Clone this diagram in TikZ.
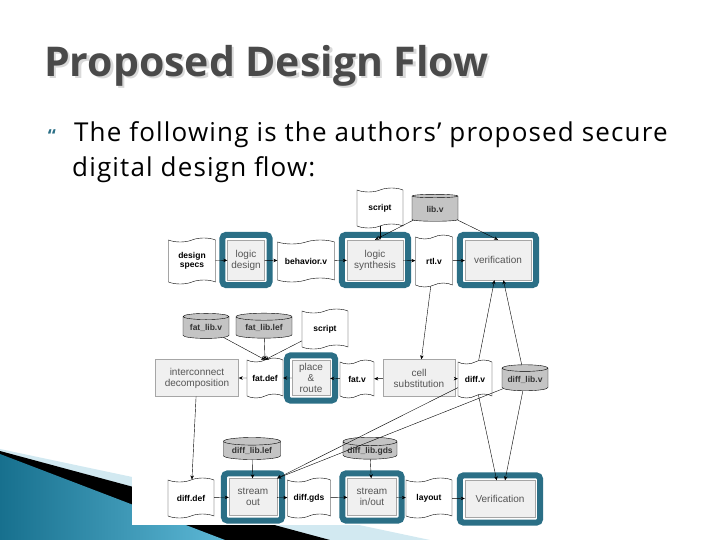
\documentclass[tikz,border=0pt]{standalone}
\usepackage{fontspec}
\setmainfont{Liberation Sans}
\newfontfamily\slidefont{Open Sans}
\newfontfamily\introfont[LetterSpace=4.5]{Open Sans}
\usepackage{tikz}
\usetikzlibrary{shapes.symbols,shapes.geometric,fit,positioning,arrows.meta,calc}

\definecolor{frameteal}{HTML}{2B6F86}
\definecolor{procfill}{HTML}{F0F0F0}
\definecolor{libgray}{HTML}{C4C4C4}
\definecolor{titlegray}{HTML}{4A4A4A}
\definecolor{proctext}{HTML}{555555}
\definecolor{swooshdark}{HTML}{17708E}
\definecolor{swooshlight}{HTML}{5DB8D6}
\definecolor{swooshband}{HTML}{D2E9F1}

\begin{document}
\begin{tikzpicture}[x=1pt,y=-1pt,thin,>={Stealth[length=4pt,width=3.5pt]},
    doc node/.style={tape,draw,fill=white,font=\bfseries\fontsize{8.5}{9.5}\selectfont,
      align=center,inner sep=1pt,tape bend height=4pt},
    lib node/.style={cylinder,shape border rotate=90,aspect=0.18,draw,fill=libgray,
      font=\bfseries\fontsize{8.5}{9.5}\selectfont,text=black!80,inner sep=1pt},
    task node/.style={rectangle,draw=gray!70,fill=procfill,text=proctext,
      font=\fontsize{10}{11}\selectfont,align=center,inner sep=1pt,minimum height=37pt},
    frame node/.style={rectangle,draw=frameteal,line width=6pt,rounded corners=4pt,
      inner sep=5pt,fill=none},
    flow/.style={->,black}]

  \useasboundingbox (0,0) rectangle (720,540);

  % slide decoration
  \fill[swooshband] (0,449) -- (430,540) -- (0,540) -- cycle;
  \fill[black] (0,451) -- (330,540) -- (0,540) -- cycle;
  \shade[left color=swooshdark,right color=swooshlight] (0,454) -- (225,540) -- (0,540) -- cycle;
  \fill[white] (132,185) rectangle (550,525);

  % title and bullet
  \node[anchor=base west,inner sep=0,text=gray!30,
        font=\slidefont\bfseries\fontsize{41}{46}\selectfont] at (46.5,78.5) {Proposed Design Flow};
  \node[anchor=base west,inner sep=0,text=titlegray,
        font=\slidefont\bfseries\fontsize{41}{46}\selectfont] (title) at (44,77) {Proposed Design Flow};
  \node[text=frameteal,inner sep=0,font=\slidefont\bfseries\fontsize{18}{18}\selectfont] (bullet) at (52,136) {“};
  \node[anchor=base west,inner sep=0,font=\introfont\fontsize{26}{33}\selectfont] (intro) at (74,142)
        {The following is the authors’ proposed secure};
  \node[anchor=base west,inner sep=0,font=\introfont\fontsize{26}{33}\selectfont] (introtwo) at (72,177)
        {digital design flow:};

  % first row
  \node[doc node,minimum width=47pt,minimum height=46pt] (specs) at (192,261) {design\\specs};
  \node[task node,minimum width=37pt,minimum height=40pt] (logicdesign) at (246,260) {logic\\design};
  \node[doc node,minimum width=57pt,minimum height=42pt] (behavior) at (306,261) {behavior.v};
  \node[task node,minimum width=56pt,minimum height=40pt] (synthesis) at (375,260) {logic\\synthesis};
  \node[doc node,minimum width=37pt,minimum height=52pt] (rtl) at (434,261) {rtl.v};
  \node[task node,minimum width=66pt,minimum height=40pt] (verif) at (498,260) {verification};
  \node[doc node,minimum width=46pt,minimum height=40pt] (script1) at (380,208) {script};
  \node[lib node,minimum width=46pt,minimum height=27pt] (libv) at (435,209) {lib.v};

  % second row
  \node[lib node,minimum width=46pt,minimum height=25pt] (fatlibv) at (206,328) {fat\_lib.v};
  \node[lib node,minimum width=56pt,minimum height=25pt] (fatliblef) at (264,328) {fat\_lib.lef};
  \node[doc node,minimum width=46pt,minimum height=40pt] (script2) at (325,329) {script};
  \node[task node,minimum width=83pt] (interconnect) at (197,378) {interconnect\\decomposition};
  \node[doc node,minimum width=36pt,minimum height=40pt] (fatdef) at (265,378) {fat.def};
  \node[task node,minimum width=38pt,minimum height=35pt] (place) at (311,378) {place\\\&\\route};
  \node[doc node,minimum width=34pt,minimum height=38pt] (fatv) at (357,379) {fat.v};
  \node[task node,minimum width=72pt] (cellsub) at (419,378) {cell\\substitution};
  \node[doc node,minimum width=34pt,minimum height=38pt] (diffv) at (475,379) {diff.v};
  \node[lib node,minimum width=46pt,minimum height=26pt] (difflibv) at (525,380) {diff\_lib.v};

  % third row
  \node[lib node,minimum width=57pt,minimum height=22pt] (difflef) at (252,451) {diff\_lib.lef};
  \node[lib node,minimum width=54pt,minimum height=22pt] (diffgdslib) at (370,451) {diff\_lib.gds};
  \node[doc node,minimum width=46pt,minimum height=40pt] (diffdef) at (191,498) {diff.def};
  \node[task node,minimum width=48pt] (streamout) at (253,497) {stream\\out};
  \node[doc node,minimum width=43pt,minimum height=40pt] (diffgds) at (309,498) {diff.gds};
  \node[task node,minimum width=49pt] (streaminout) at (372,497) {stream\\in/out};
  \node[doc node,minimum width=46pt,minimum height=40pt] (layout) at (429,498) {layout};
  \node[task node,minimum width=70pt] (verif2) at (500,499) {Verification};

  % teal frames round the tools
  \foreach \tool in {logicdesign,synthesis,verif,place,streamout,streaminout,verif2}
    \node[frame node,fit=(\tool)] (\tool frame) {};

  \path[flow]
    (specs) edge (logicdesign)
    (logicdesign) edge (behavior)
    (behavior) edge (synthesis)
    (synthesis) edge (rtl)
    (rtl) edge (verif)
    (script1) edge (synthesis.north -| script1)
    (libv) edge (synthesis.north)
    (libv) edge (verif.north)
    (rtl) edge (cellsub)
    (fatlibv) edge (fatdef.north)
    (fatliblef) edge (fatdef.north)
    (script2) edge (fatdef.north)
    (fatdef) edge (interconnect)
    (place) edge (fatdef)
    (fatv) edge (place)
    (cellsub) edge (fatv)
    (cellsub) edge (diffv)
    (diffv) edge (verif.-100)
    (difflibv) edge (verif.-75)
    (diffv) edge (verif2.100)
    (difflibv) edge (verif2.75)
    (diffv) edge (streamout.north east)
    (difflibv) edge (streamout.north east)
    (interconnect) edge (diffdef)
    (difflef) edge (streamout)
    (diffgdslib) edge (streaminout)
    (diffdef) edge (streamout)
    (streamout) edge (diffgds)
    (diffgds) edge (streaminout)
    (streaminout) edge (layout)
    (layout) edge (verif2);

\end{tikzpicture}
\end{document}
